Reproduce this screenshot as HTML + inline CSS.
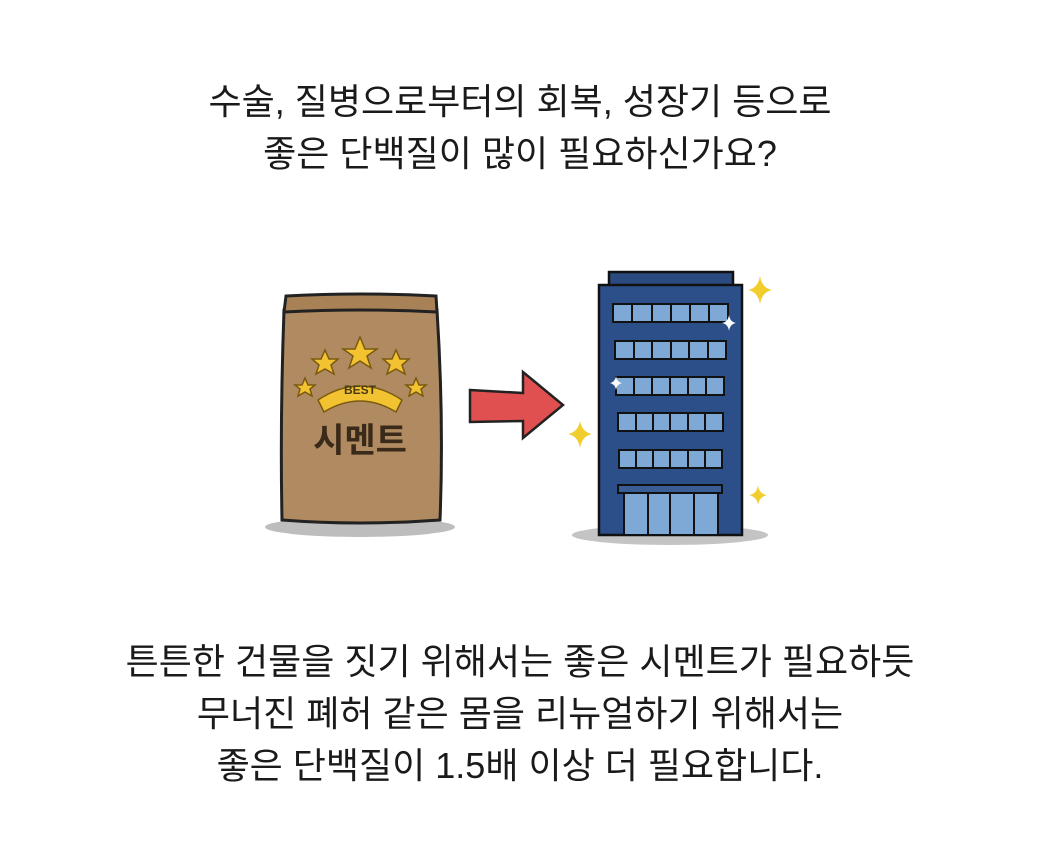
<!DOCTYPE html>
<html><head><meta charset="utf-8"><style>
html,body{margin:0;padding:0;background:#fff;}
body{width:1040px;height:844px;position:relative;overflow:hidden;font-family:"Liberation Sans","Noto Sans CJK KR",sans-serif;color:#1a1a1a;}
.t{position:absolute;left:0;width:1040px;text-align:center;font-size:36px;line-height:52px;white-space:nowrap;}
svg{position:absolute;left:0;top:0;}
</style></head><body>
<div class="t" style="top:76px">수술, 질병으로부터의 회복, 성장기 등으로<br>좋은 단백질이 많이 필요하신가요?</div>
<svg width="1040" height="844" viewBox="0 0 1040 844">
<ellipse cx="360" cy="527" rx="95" ry="10" fill="#bdbdbd"/>
<path d="M284 310 Q280 420 282 520 Q360 526 440 520 Q444 420 437 310 Z" fill="#b08a60" stroke="#222" stroke-width="3"/>
<path d="M286 296 Q360 292 436 296 L437 312 Q360 308 284 312 Z" fill="#a88256" stroke="#222" stroke-width="3"/>
<g fill="#f2c230" stroke="#7a5a10" stroke-width="1.5">
<polygon points="360,337 365,349 377,349 367,356 371,368 360,361 349,368 353,356 343,349 355,349"/>
<polygon points="325,350 329,359 338,359 331,365 334,374 325,369 316,374 319,365 312,359 321,359"/>
<polygon points="396,350 400,359 409,359 402,365 405,374 396,369 387,374 390,365 383,359 392,359"/>
<polygon points="305,378 308,385 315,385 310,389 312,396 305,392 298,396 300,389 295,385 302,385"/>
<polygon points="416,378 419,385 426,385 421,389 423,396 416,392 409,396 411,389 406,385 413,385"/>
<path d="M318 400 Q360 372 402 400 L396 412 Q360 390 324 412 Z"/>
</g>
<text x="360" y="394" font-size="12" font-weight="bold" text-anchor="middle" fill="#4a3a10" font-family="Liberation Sans">BEST</text>
<text x="360" y="452" font-size="34" font-weight="bold" text-anchor="middle" fill="#3a2a1a" font-family="Liberation Sans,Noto Sans CJK KR,sans-serif">시멘트</text>
<polygon points="470,390 523,393 523,372 563,405 523,438 523,421 470,422" fill="#e05050" stroke="#222" stroke-width="2.5"/>
<ellipse cx="670" cy="535" rx="98" ry="10" fill="#c4c4c4"/>
<rect x="609" y="272" width="124" height="14" fill="#2a4a80" stroke="#111" stroke-width="2.5"/>
<rect x="599" y="285" width="143" height="250" fill="#2c4f8a" stroke="#111" stroke-width="2.5"/>
<g fill="#7ea9d6" stroke="#111" stroke-width="2">
<rect x="613" y="304" width="115" height="18"/>
<rect x="615" y="341" width="111" height="18"/>
<rect x="616" y="377" width="108" height="18"/>
<rect x="618" y="413" width="105" height="18"/>
<rect x="619" y="450" width="103" height="18"/>
<rect x="624" y="492" width="94" height="43"/>
</g>
<g stroke="#111" stroke-width="2">
<line x1="632" y1="304" x2="632" y2="322"/><line x1="652" y1="304" x2="652" y2="322"/><line x1="671" y1="304" x2="671" y2="322"/><line x1="690" y1="304" x2="690" y2="322"/><line x1="709" y1="304" x2="709" y2="322"/>
<line x1="634" y1="341" x2="634" y2="359"/><line x1="652" y1="341" x2="652" y2="359"/><line x1="671" y1="341" x2="671" y2="359"/><line x1="689" y1="341" x2="689" y2="359"/><line x1="708" y1="341" x2="708" y2="359"/>
<line x1="634" y1="377" x2="634" y2="395"/><line x1="652" y1="377" x2="652" y2="395"/><line x1="670" y1="377" x2="670" y2="395"/><line x1="688" y1="377" x2="688" y2="395"/><line x1="706" y1="377" x2="706" y2="395"/>
<line x1="636" y1="413" x2="636" y2="431"/><line x1="653" y1="413" x2="653" y2="431"/><line x1="670" y1="413" x2="670" y2="431"/><line x1="688" y1="413" x2="688" y2="431"/><line x1="705" y1="413" x2="705" y2="431"/>
<line x1="636" y1="450" x2="636" y2="468"/><line x1="653" y1="450" x2="653" y2="468"/><line x1="670" y1="450" x2="670" y2="468"/><line x1="688" y1="450" x2="688" y2="468"/><line x1="705" y1="450" x2="705" y2="468"/>
<line x1="648" y1="492" x2="648" y2="535"/><line x1="670" y1="492" x2="670" y2="535"/><line x1="694" y1="492" x2="694" y2="535"/>
</g>
<rect x="618" y="485" width="104" height="8" fill="#3a5d95" stroke="#111" stroke-width="2"/>
<g fill="#f2cd2e">
<path d="M760 276 Q762 288 772 290 Q762 292 760 304 Q758 292 748 290 Q758 288 760 276Z"/>
<path d="M580 421 Q582 432 592 434 Q582 436 580 448 Q578 436 568 434 Q578 432 580 421Z"/>
<path d="M758 485 Q759 494 767 495 Q759 497 758 505 Q757 497 749 495 Q757 494 758 485Z"/>
</g>
<g fill="#fff">
<path d="M729 315 Q730 322 736 323 Q730 324 729 331 Q728 324 722 323 Q728 322 729 315Z"/>
<path d="M616 376 Q617 382 622 383 Q617 384 616 390 Q615 384 610 383 Q615 382 616 376Z"/>
</g>
</svg>
<div class="t" style="top:636px">튼튼한 건물을 짓기 위해서는 좋은 시멘트가 필요하듯<br>무너진 폐허 같은 몸을 리뉴얼하기 위해서는<br>좋은 단백질이 1.5배 이상 더 필요합니다.</div>
</body></html>
